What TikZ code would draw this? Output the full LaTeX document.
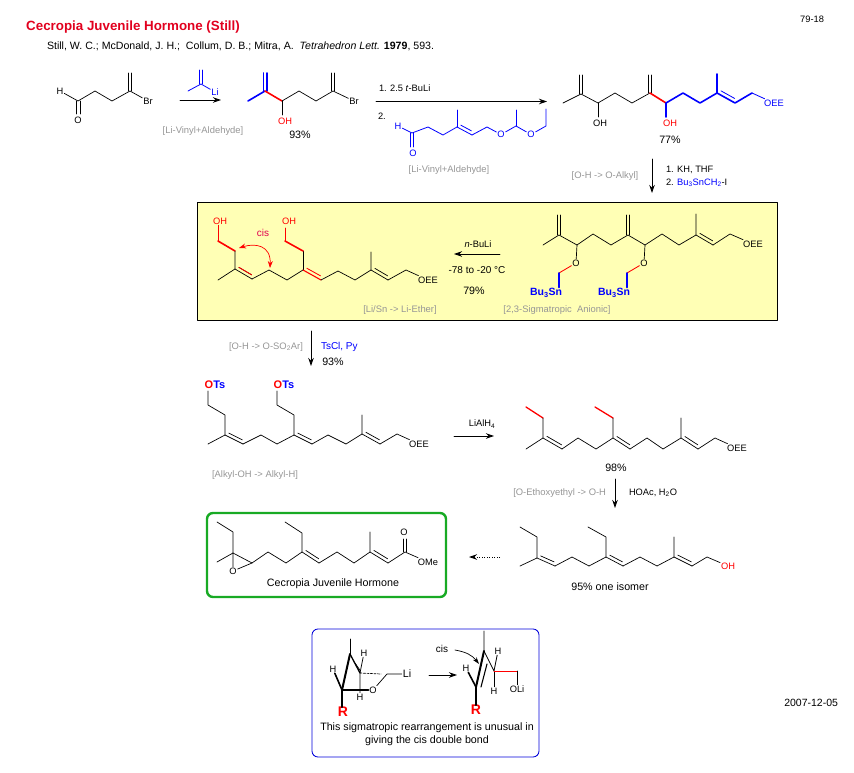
\documentclass[tikz,border=0pt]{standalone}
\usepackage{fontspec}
\setmainfont{Liberation Sans}
\usetikzlibrary{arrows.meta,calc}
\definecolor{hornote}{RGB}{150,150,150}
\definecolor{horyellow}{RGB}{255,255,181}
\definecolor{horgreen}{RGB}{24,170,36}
\definecolor{hortitle}{RGB}{225,0,30}
\definecolor{horcis}{RGB}{225,0,80}
\tikzset{
  bond/.style={line width=.7pt},
  bluebond/.style={line width=.8pt,blue},
  redbond/.style={line width=.85pt,red},
  fatblue/.style={line width=1.6pt,blue},
  fatred/.style={line width=1.6pt,red},
  fatblack/.style={line width=2.1pt},
  lab/.style={inner sep=.8pt,font=\fontsize{9.3}{11}\selectfont},
  mid/.style={inner sep=.8pt,font=\fontsize{10}{12}\selectfont},
  capt/.style={inner sep=.8pt,font=\fontsize{10.7}{13}\selectfont},
  boldlab/.style={inner sep=.8pt,font=\fontsize{10.5}{12}\selectfont\bfseries},
  note/.style={inner sep=.8pt,font=\fontsize{9.4}{11}\selectfont,text=hornote},
  rxn/.style={line width=.85pt,->},
}
% double bond, second line on the left of a->b
\newcommand{\dbl}[3][bond]{\draw[#1] (#2)--(#3);
  \draw[#1,shorten <=2.5pt,shorten >=2.5pt] ($(#2)!3.4pt!90:(#3)$)--($(#3)!3.4pt!-90:(#2)$);}
\newcommand{\twoup}[4][bond]{\draw[#1] (#2-1.7,#3)--(#2-1.7,#4) (#2+1.7,#3)--(#2+1.7,#4);}
\begin{document}
\begin{tikzpicture}[x=1pt,y=-1pt,line join=round,line cap=round,>={Stealth[length=8pt,width=5.5pt]}]
\useasboundingbox (0,0) rectangle (854,773);
% header
\node[anchor=west,inner sep=0pt,text=hortitle,font=\fontsize{13.35}{15}\selectfont\bfseries] (title) at (26,27) {Cecropia Juvenile Hormone (Still)};
\node[capt,anchor=west,font=\fontsize{10.6}{13}\selectfont] (cite) at (46,46.5) {Still, W. C.; McDonald, J. H.;\ \ Collum, D. B.; Mitra, A.\ \ \textit{Tetrahedron Lett.} \textbf{1979}, 593.};
\node[lab,anchor=east] (pageno) at (825,19) {79-18};
\node[capt,anchor=east,font=\fontsize{10.5}{13}\selectfont] (stamp) at (839,703) {2007-12-05};
% boxes first
\draw[fill=horyellow,line width=.85pt] (197,202) rectangle (777,320);
\draw[horgreen,line width=2.4pt,rounded corners=6pt] (207,513) rectangle (446,597);
\draw[blue!85!black,line width=.85pt,rounded corners=6pt] (312,629) rectangle (539,757);
% bromo aldehyde
\node[lab] (hA) at (60,91) {H};
\node[lab] (oA) at (78,120) {O};
\node[lab] (brA) at (148,101) {Br};
\draw[bond] (hA)--(78,101)--(95,91)--(112,101)--(130,91)--(brA);
\draw[bond] (76.5,101)--(76.5,114) (80,101)--(80,114);
\twoup{130}{91}{73}
% vinyl lithium
\node[lab,text=blue] (liA) at (215,92) {Li};
\draw[bluebond] (188,91)--(201,84)--(liA);
\twoup[bluebond]{201}{84}{70}
\coordinate (a1s) at (180,100);
\coordinate (a1e) at (221,100);
\draw[rxn] (a1s)--(a1e);
\node[note] (n1) at (203,131) {[Li-Vinyl+Aldehyde]};
% alcohol, 93 %
\node[lab] (brB) at (354,101) {Br};
\node[lab,text=red] (ohB) at (285,121) {OH};
\draw[fatblue] (248,101)--(265,91);
\twoup[fatblue]{265}{91}{73}
\draw[fatred] (265,91)--(282,101);
\draw[bond] (282,101)--(299,91)--(316,101)--(333,91)--(brB);
\draw[bond] (282,101)--(282,115);
\twoup{333}{91}{73}
\node[capt] (y1) at (300,135) {93\%};
% long arrow and its aldehyde
\coordinate (a2s) at (376,101.5);
\coordinate (a2e) at (547,101.5);
\draw[rxn] (a2s)--(a2e);
\node[lab,anchor=west] (r1) at (378,88) {1. 2.5 \textit{t}-BuLi};
\node[lab,anchor=west] (r2) at (377,116) {2.};
\node[lab,text=blue] (hC) at (398,126) {H};
\node[lab,text=blue] (oC) at (413,153) {O};
\node[lab,text=blue] (oD) at (501,134.5) {O};
\node[lab,text=blue] (oE) at (531,134.5) {O};
\draw[bluebond] (hC)--(412,133)--(428,127)--(443,135)--(457,127);
\draw[bluebond] (410.3,133)--(410.3,147) (413.7,133)--(413.7,147);
\draw[bluebond] (457,127)--(457,110);
\dbl[bluebond]{457,127}{472,135}
\draw[bluebond] (472,135)--(487,127)--(oD)--(516,126)--(oE)--(546,126)--(546,109);
\draw[bluebond] (516,126)--(516,110);
\node[note] (n2) at (449,170) {[Li-Vinyl+Aldehyde]};
% diol, 77 %
\node[lab] (ohF) at (600,123) {OH};
\node[lab,text=red] (ohG) at (670,123) {OH};
\node[lab,text=blue] (oeeA) at (774,103) {OEE};
\draw[bond] (563,103)--(581,94)--(598,103)--(615,93)--(632,103)--(650,93);
\twoup{581}{94}{75}
\twoup{650}{93}{75}
\draw[bond] (598,103)--(598,117);
\draw[fatred] (650,93)--(666,103);
\draw[fatblue] (666,103)--(683,93)--(700,103)--(717,93)--(717,74);
\draw[fatblue] (666,103)--(666,117);
\draw[fatblue] (717,93)--(735,103)--(752,93);
\draw[bluebond,shorten <=2.5pt,shorten >=2.5pt] ($(717,93)!3.8pt!90:(735,103)$)--($(735,103)!3.8pt!-90:(717,93)$);
\draw[bluebond] (752,93)--(oeeA);
\node[capt] (y2) at (670,140) {77\%};
\coordinate (a3s) at (652,159);
\coordinate (a3e) at (652,193);
\draw[rxn] (a3s)--(a3e);
\node[note] (n3) at (605,176) {[O-H -> O-Alkyl]};
\node[lab,anchor=west] (r3) at (665,170) {1. KH, THF};
\node[lab,anchor=west] (r4) at (665,183) {2. \textcolor{blue}{Bu\textsubscript{3}SnCH\textsubscript{2}}-I};
% stannyl ether
\node[lab] (oH) at (576,263) {O};
\node[lab] (oI) at (644,263) {O};
\node[lab] (oeeB) at (753,244) {OEE};
\node[boldlab,text=blue] (snA) at (546,293) {Bu\textsubscript{3}Sn};
\node[boldlab,text=blue] (snB) at (614,293) {Bu\textsubscript{3}Sn};
\draw[bond] (543,245)--(559,235)--(577,245)--(593,234)--(611,245)--(628,235)--(645,245)--(662,234)--(679,245)--(696,235)--(696,214);
\twoup{559}{235}{215}
\twoup{628}{235}{215}
\draw[bond] (577,245)--(oH) (645,245)--(oI);
\dbl{696,235}{713,245}
\draw[bond] (713,245)--(730,234)--(oeeB);
\draw[redbond] (oH)--(559,273);
\draw[redbond] (oI)--(627,273);
\draw[fatblue] (559,273)--(snA.north-|559,273);
\draw[fatblue] (627,273)--(snB.north-|627,273);
\node[note] (n4) at (557,310) {[2,3-Sigmatropic\ \ Anionic]};
% n-BuLi arrow
\coordinate (a4s) at (500,254);
\coordinate (a4e) at (454,254);
\draw[rxn] (a4s)--(a4e);
\node[lab] (r5) at (478,244) {\textit{n}-BuLi};
\node[mid] (r6) at (477,270) {-78 to -20 °C};
\node[capt] (y3) at (474,291) {79\%};
% cis diol
\node[lab,text=red] (ohJ) at (220,221) {OH};
\node[lab,text=red] (ohK) at (289,221) {OH};
\node[lab] (oeeC) at (428,280) {OEE};
\draw[redbond] (ohJ.south-|218,228)--(218,241);
\draw[fatred] (218,241)--(235,251);
\draw[bond] (235,251)--(235,269)--(218,280);
\dbl{235,269}{252,279}
\draw[redbond,shorten <=2.5pt,shorten >=2.5pt] ($(235,269)!3.4pt!90:(252,279)$)--($(252,279)!3.4pt!-90:(235,269)$);
\draw[bond] (252,279)--(269,270)--(287,280)--(303,270);
\draw[bond] (303,270)--(303,251);
\draw[redbond] (285,241)--(285,228);
\draw[fatred] (303,251)--(285,241);
\draw[redbond,line width=1.1pt] (303,270)--(321,280);
\draw[redbond,shorten <=2.5pt,shorten >=2.5pt] ($(303,270)!3.4pt!90:(321,280)$)--($(321,280)!3.4pt!-90:(303,270)$);
\draw[bond] (321,280)--(338,271)--(355,280)--(371,270)--(371,252);
\dbl{371,270}{388,280}
\draw[bond] (388,280)--(406,270)--(oeeC);
\node[mid,text=horcis] (cisA) at (263,233) {cis};
\draw[red,line width=.7pt,{Stealth[length=7pt,width=5pt]}-{Stealth[length=7pt,width=5pt]}] (239,248) .. controls (255,243) and (271,245) .. (270,268);
\node[note] (n5) at (400,310) {[Li/Sn -> Li-Ether]};
% tosylation arrow
\coordinate (a5s) at (311,331);
\coordinate (a5e) at (311,366);
\draw[rxn] (a5s)--(a5e);
\node[note] (n6) at (266,347) {[O-H -> O-SO\textsubscript{2}Ar]};
\node[mid,anchor=west,text=blue] (r7) at (320,347) {TsCl, Py};
\node[capt] (y4) at (333,362) {93\%};
% bis tosylate
\node[boldlab,text=blue,font=\fontsize{11}{12}\selectfont\bfseries] (tsA) at (215,385) {\textcolor{red}{O}Ts};
\node[boldlab,text=blue,font=\fontsize{11}{12}\selectfont\bfseries] (tsB) at (284,385) {\textcolor{red}{O}Ts};
\node[lab] (oeeD) at (419,444) {OEE};
\draw[bond] (208,391)--(208,405)--(225,415)--(225,435)--(208,444);
\dbl{225,435}{243,444}
\draw[bond] (243,444)--(261,435)--(277,444)--(294,435)--(294,415)--(277,405)--(277,391);
\dbl{294,435}{312,444}
\draw[bond] (312,444)--(328,435)--(346,444)--(362,434)--(362,415);
\dbl{362,434}{380,444}
\draw[bond] (380,444)--(397,434)--(oeeD);
\node[note] (n7) at (255,475) {[Alkyl-OH -> Alkyl-H]};
\coordinate (a6s) at (454,436);
\coordinate (a6e) at (494,436);
\draw[rxn] (a6s)--(a6e);
\node[lab] (r8) at (482,424) {LiAlH\textsubscript{4}};
% triene, 98 %
\node[lab] (oeeE) at (737,448) {OEE};
\draw[fatred,line width=1.3pt] (526,407)--(543,418);
\draw[fatred,line width=1.3pt] (595,407)--(613,418);
\draw[bond] (543,418)--(543,438)--(526,449);
\dbl{543,438}{562,449}
\draw[bond] (562,449)--(578,438)--(596,449)--(613,438)--(613,418);
\dbl{613,438}{630,449}
\draw[bond] (630,449)--(647,438)--(663,449)--(681,438)--(681,418);
\dbl{681,438}{698,449}
\draw[bond] (698,449)--(715,438)--(oeeE);
\node[capt] (y5) at (616,468) {98\%};
\coordinate (a7s) at (615,479);
\coordinate (a7e) at (615,508);
\draw[rxn] (a7s)--(a7e);
\node[note,anchor=east] (n8) at (607,493) {[O-Ethoxyethyl -> O-H};
\node[lab,anchor=west] (r9) at (628,493) {HOAc, H\textsubscript{2}O};
% alcohol
\node[lab,text=red] (ohL) at (728,566) {OH};
\draw[bond] (520,527)--(537,537)--(537,558)--(520,566);
\dbl{537,558}{555,566}
\draw[bond] (555,566)--(572,557)--(589,566)--(606,557)--(606,537)--(588,527);
\dbl{606,557}{623,566}
\draw[bond] (623,566)--(640,557)--(657,566)--(674,557)--(674,537);
\dbl{674,557}{692,566}
\draw[bond] (692,566)--(707,557)--(ohL);
\node[capt] (y6) at (610,587) {95\% one isomer};
\coordinate (a8s) at (500,557);
\coordinate (a8e) at (469,557);
\draw[rxn,line cap=butt,dash pattern=on 1pt off 1.5pt] (a8s)--(a8e);
% juvenile hormone
\node[lab] (oM) at (233,571) {O};
\node[lab] (oN) at (404,532) {O};
\node[lab] (omeA) at (428,562) {OMe};
\draw[bond] (217,522)--(233,532)--(233,553)--(217,562);
\draw[bond] (233,553)--(252,563)--(268,552)--(286,563)--(302,552)--(302,533)--(285,522);
\draw[bond] (233,553)--(oM)--(252,563);
\dbl{302,552}{319,563}
\draw[bond] (319,563)--(337,552)--(354,563)--(370,552)--(370,532);
\dbl{370,552}{388,563}
\draw[bond] (388,563)--(405,552)--(omeA);
\draw[bond] (403.3,552)--(403.3,539) (406.7,552)--(406.7,539);
\node[capt] (nameA) at (333,584) {Cecropia Juvenile Hormone};
% transition state
\node[lab] (hP) at (333,669) {H};
\node[lab] (hQ) at (364,653) {H};
\node[lab] (hR) at (360,697) {H};
\node[lab] (oP) at (373,690) {O};
\node[capt] (liP) at (407,674) {Li};
\node[inner sep=0pt,text=red,font=\fontsize{14}{14}\selectfont\bfseries] (rP) at (343,712) {R};
\draw[bond] (350,639)--(350,654);
\draw[line width=1.3pt] (350,654)--(360,673);
\draw[bond] (355,663)--(360.5,671);
\draw[line width=2pt] (350,654)--(342,690);
\draw[bond] (360,673)--(hQ) (360,673)--(hR);
\draw[bond,dash pattern=on 2pt off 1.5pt] (360,673)--(381,674);
\draw[fatblack] (342,690)--(oP.west);
\draw[fatblack,line width=1.6pt] (342,690)--(hP);
\draw[fatblack] (342,690)--(rP.north-|342,690);
\draw[bond] (oP)--(387,674)--(liP);
\coordinate (a9s) at (429,675);
\coordinate (a9e) at (457,675);
\draw[rxn] (a9s)--(a9e);
% product of the rearrangement
\node[mid] (cisB) at (442,649) {cis};
\node[lab] (hS) at (498,651) {H};
\node[lab] (hT) at (466,668) {H};
\node[lab] (hU) at (494,691) {H};
\node[lab] (oliA) at (517,689) {OLi};
\node[inner sep=0pt,text=red,font=\fontsize{14}{14}\selectfont\bfseries] (rS) at (476,710) {R};
\draw[line width=.85pt] (484,631)--(484,651)--(494,671)--(hS);
\draw[bond] (494,671)--(hU);
\draw[line width=2pt] (484,651)--(476,687);
\draw[line width=1.1pt] (487,664)--(481,687);
\draw[line width=1.6pt] (476,687)--(hT);
\draw[fatblack] (476,687)--(rS.north-|476,687);
\draw[red,line width=.9pt] (494,671)--(517,671);
\draw[bond] (517,671)--(oliA);
\draw[line width=.7pt,-{Stealth[length=7pt,width=4.5pt]}] (455,650) .. controls (466,652) and (472,655) .. (479,664);
\node[capt] (cap1) at (427,728) {This sigmatropic rearrangement is unusual in};
\node[capt] (cap2) at (427,741) {giving the cis double bond};
\end{tikzpicture}
\end{document}
